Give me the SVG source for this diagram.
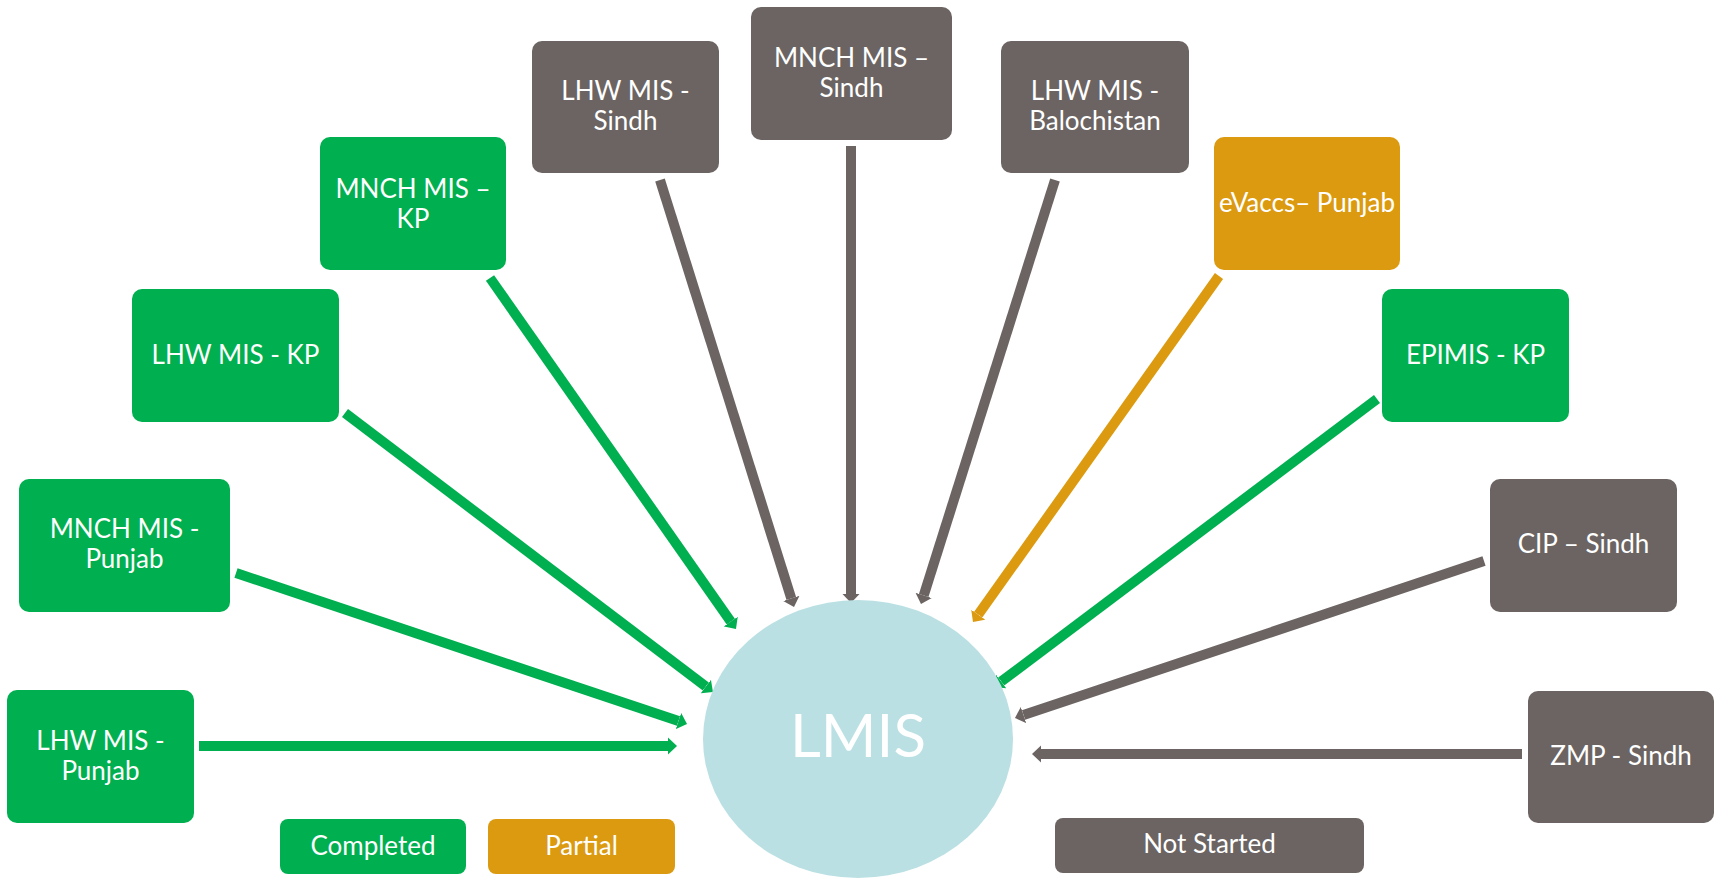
<svg xmlns="http://www.w3.org/2000/svg" width="1719" height="886" viewBox="0 0 1719 886">
<style>
.g{fill:#00AF50}.o{fill:#DB9A0F}.k{fill:#6B6462}
.t{font-family:Lato,"Open Sans","Liberation Sans",sans-serif;font-size:26px;fill:#fff;text-anchor:middle}
.cg{stroke:#00AF50;stroke-width:10;fill:none}
.co{stroke:#DB9A0F;stroke-width:10;fill:none}
.ck{stroke:#6B6462;stroke-width:10;fill:none}
</style>
<defs>
<marker id="ag" markerUnits="userSpaceOnUse" markerWidth="10" markerHeight="18" refX="0" refY="9" orient="auto"><path d="M0,0.5 L9,9 L0,17.5 z" fill="#00AF50"/></marker>
<marker id="ao" markerUnits="userSpaceOnUse" markerWidth="10" markerHeight="18" refX="0" refY="9" orient="auto"><path d="M0,0.5 L9,9 L0,17.5 z" fill="#DB9A0F"/></marker>
<marker id="ak" markerUnits="userSpaceOnUse" markerWidth="10" markerHeight="18" refX="0" refY="9" orient="auto"><path d="M0,0.5 L9,9 L0,17.5 z" fill="#6B6462"/></marker>
</defs>
<rect width="1719" height="886" fill="#fff"/>
<g id="connectors">
<line class="cg" x1="199" y1="746" x2="668" y2="746" marker-end="url(#ag)"/>
<line class="cg" x1="236" y1="573" x2="678.5" y2="721.1" marker-end="url(#ag)"/>
<line class="cg" x1="345" y1="413" x2="705.8" y2="686.6" marker-end="url(#ag)"/>
<line class="cg" x1="490" y1="278" x2="730.8" y2="621.6" marker-end="url(#ag)"/>
<line class="ck" x1="660" y1="180" x2="791.3" y2="598.4" marker-end="url(#ak)"/>
<line class="ck" x1="851" y1="146" x2="851" y2="594" marker-end="url(#ak)"/>
<line class="ck" x1="1055" y1="180" x2="923.7" y2="595.4" marker-end="url(#ak)"/>
<line class="co" x1="1219" y1="276" x2="978.2" y2="614.7" marker-end="url(#ao)"/>
<line class="cg" x1="1377" y1="399" x2="1001.2" y2="681.6" marker-end="url(#ag)"/>
<line class="ck" x1="1484" y1="561" x2="1023.5" y2="715.1" marker-end="url(#ak)"/>
<line class="ck" x1="1522" y1="754" x2="1041" y2="754" marker-end="url(#ak)"/>
</g>
<g id="lmis">
<ellipse cx="858" cy="739" rx="155" ry="139" fill="#BAE0E3"/>
<text x="858" y="757" font-family="Lato,'Open Sans','Liberation Sans',sans-serif" font-size="60" fill="#fff" text-anchor="middle">LMIS</text>
</g>
<g id="lhw-punjab"><rect class="g" x="7" y="690" width="187" height="133" rx="10"/><text class="t" x="100.5" y="750">LHW MIS -</text><text class="t" x="100.5" y="780">Punjab</text></g>
<g id="mnch-punjab"><rect class="g" x="19" y="479" width="211" height="133" rx="10"/><text class="t" x="124.5" y="538">MNCH MIS -</text><text class="t" x="124.5" y="568">Punjab</text></g>
<g id="lhw-kp"><rect class="g" x="132" y="289" width="207" height="133" rx="10"/><text class="t" x="235.5" y="364">LHW MIS - KP</text></g>
<g id="mnch-kp"><rect class="g" x="320" y="137" width="186" height="133" rx="10"/><text class="t" x="413" y="198">MNCH MIS –</text><text class="t" x="413" y="228">KP</text></g>
<g id="lhw-sindh"><rect class="k" x="532" y="41" width="187" height="132" rx="10"/><text class="t" x="625.5" y="100">LHW MIS -</text><text class="t" x="625.5" y="130">Sindh</text></g>
<g id="mnch-sindh"><rect class="k" x="751" y="7" width="201" height="133" rx="10"/><text class="t" x="851.5" y="67">MNCH MIS –</text><text class="t" x="851.5" y="97">Sindh</text></g>
<g id="lhw-balochistan"><rect class="k" x="1001" y="41" width="188" height="132" rx="10"/><text class="t" x="1095" y="100">LHW MIS -</text><text class="t" x="1095" y="130">Balochistan</text></g>
<g id="evaccs-punjab"><rect class="o" x="1214" y="137" width="186" height="133" rx="10"/><text class="t" x="1307" y="212">eVaccs– Punjab</text></g>
<g id="epimis-kp"><rect class="g" x="1382" y="289" width="187" height="133" rx="10"/><text class="t" x="1475.5" y="364">EPIMIS - KP</text></g>
<g id="cip-sindh"><rect class="k" x="1490" y="479" width="187" height="133" rx="10"/><text class="t" x="1583.5" y="553">CIP – Sindh</text></g>
<g id="zmp-sindh"><rect class="k" x="1528" y="691" width="186" height="132" rx="10"/><text class="t" x="1621" y="765">ZMP - Sindh</text></g>
<g id="legend-completed"><rect class="g" x="280" y="819" width="186" height="55" rx="8"/><text class="t" x="373" y="855">Completed</text></g>
<g id="legend-partial"><rect class="o" x="488" y="819" width="187" height="55" rx="8"/><text class="t" x="581.5" y="855">Partial</text></g>
<g id="legend-not-started"><rect class="k" x="1055" y="818" width="309" height="55" rx="8"/><text class="t" x="1209.5" y="853">Not Started</text></g>
</svg>
